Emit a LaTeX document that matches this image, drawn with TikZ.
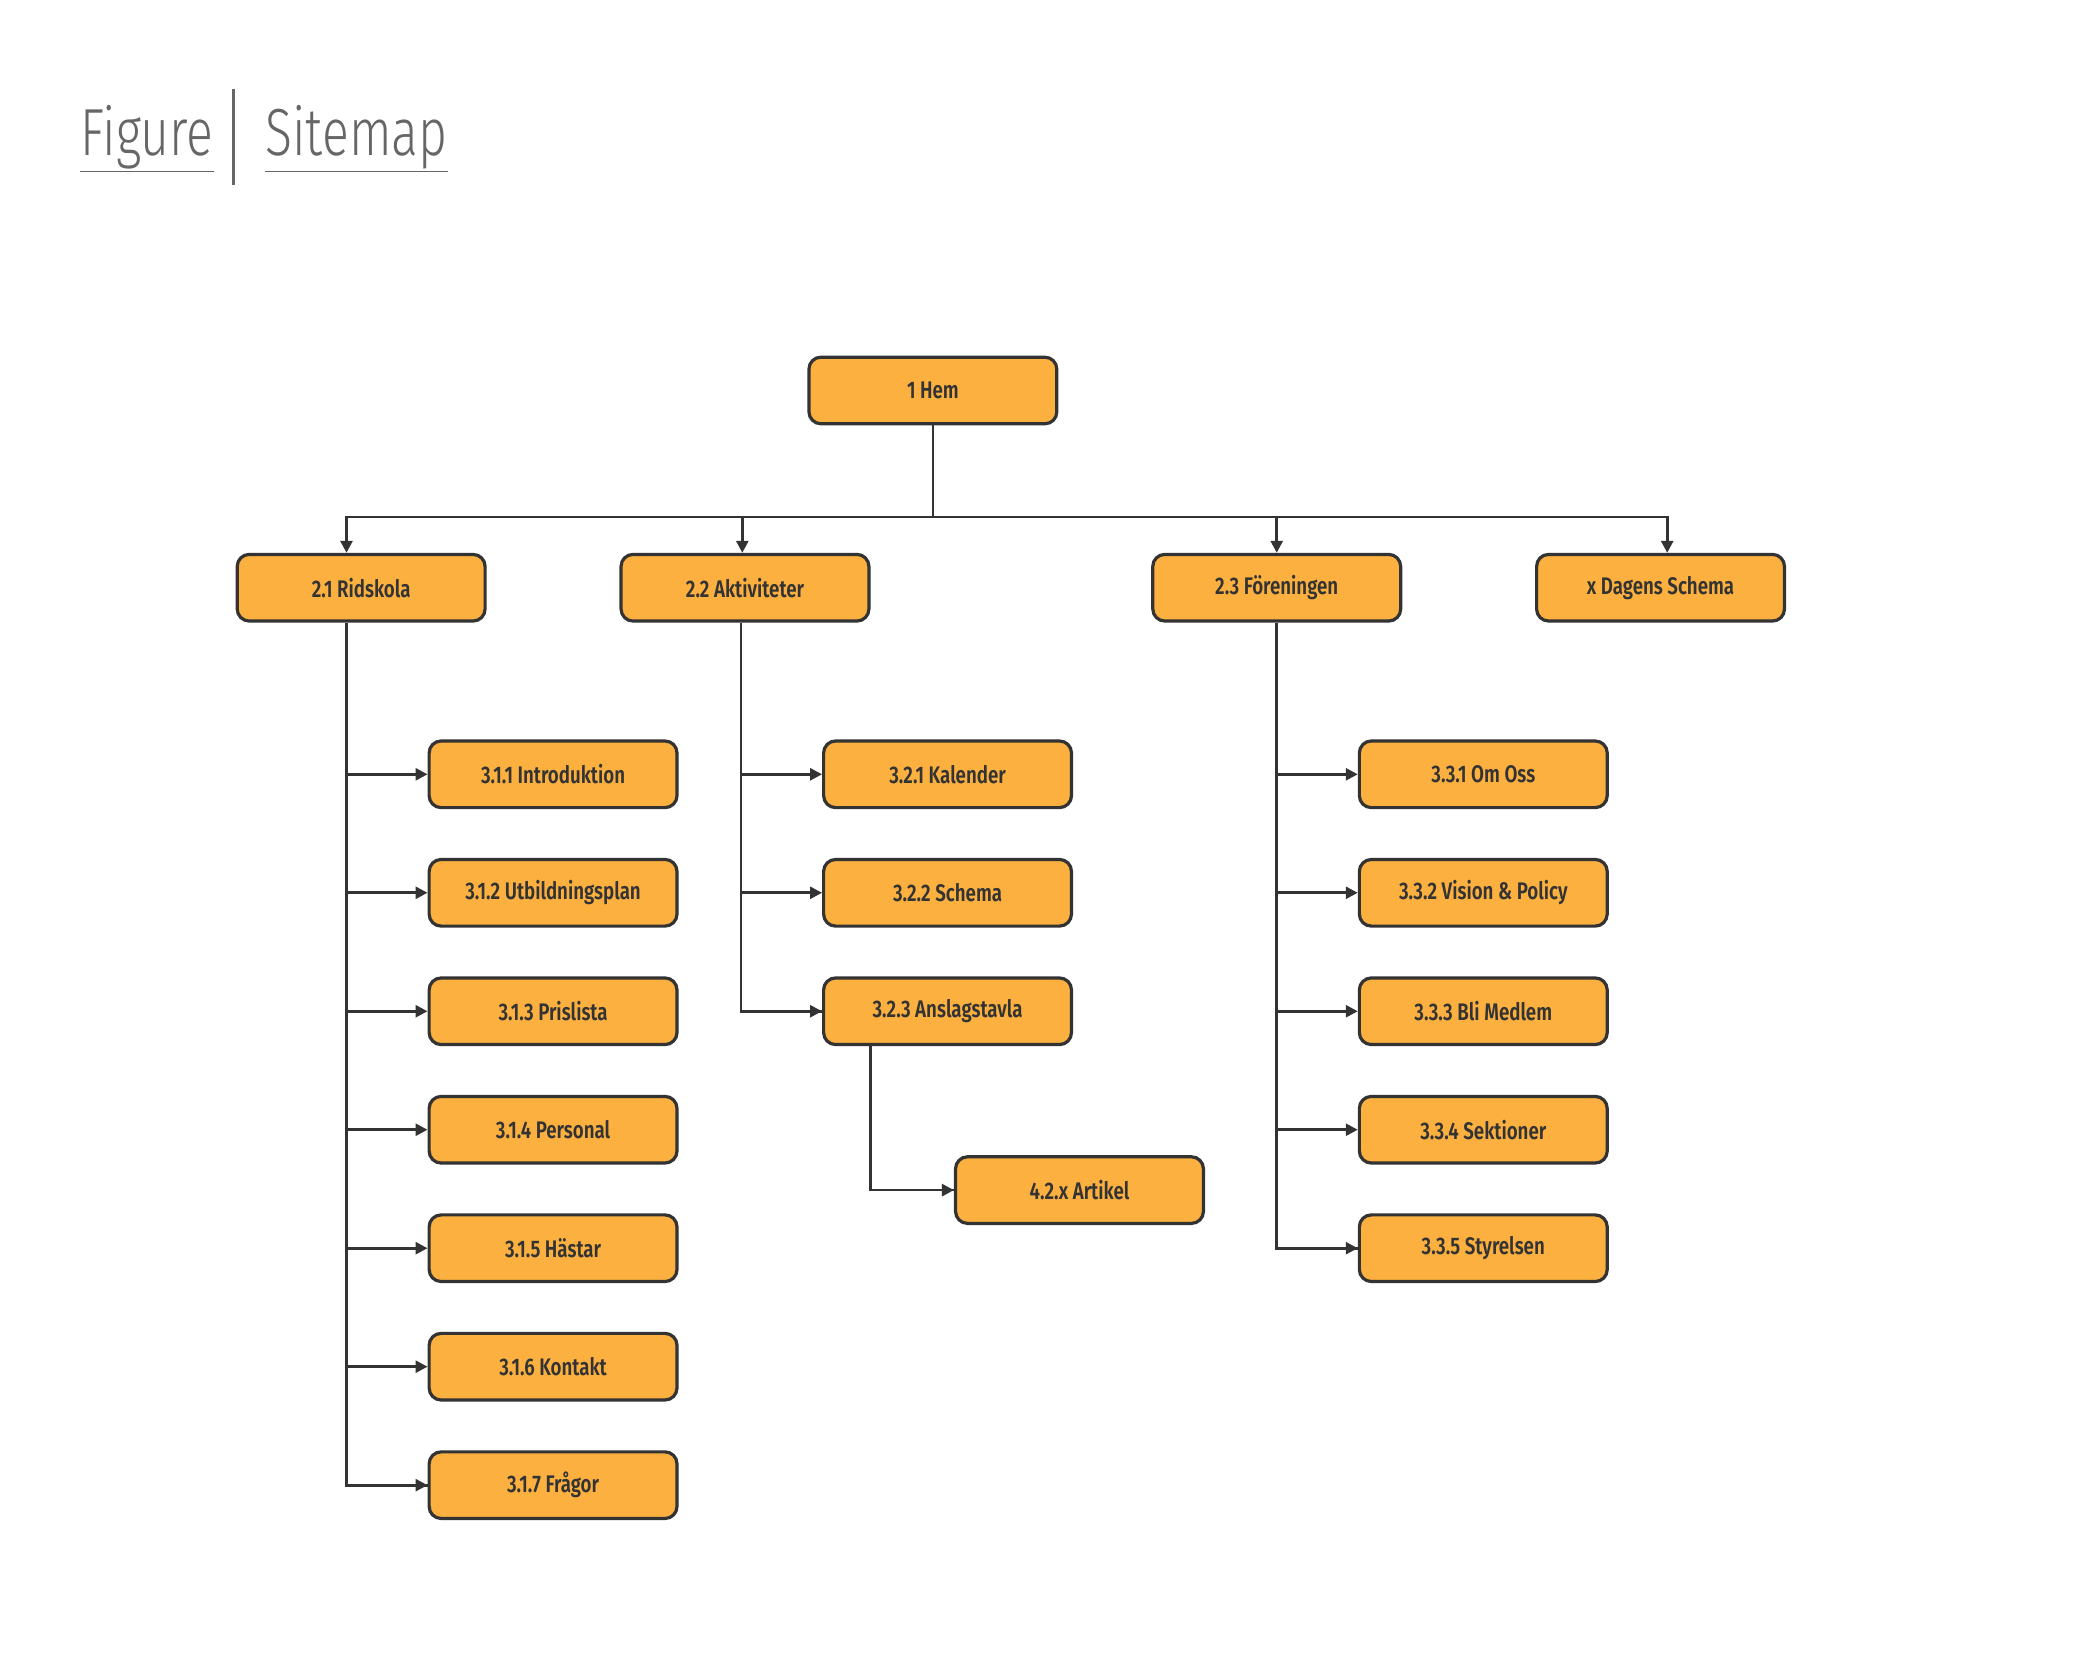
\documentclass[tikz,border=0pt]{standalone}
\usepackage{fontspec}
\setmainfont{Fira Sans}
\newfontfamily\boxfont[FakeStretch=0.78]{Fira Sans SemiBold}
\newfontfamily\titlefont[FakeStretch=0.75]{Fira Sans Light}
\usetikzlibrary{arrows.meta}
\definecolor{boxfill}{HTML}{FBB040}
\definecolor{edge}{HTML}{333333}
\definecolor{titlegray}{HTML}{666666}
\begin{document}
\begin{tikzpicture}[x=1pt,y=-1pt,
  pg/.style={draw=edge,fill=boxfill,line width=2.4pt,rounded corners=9pt,minimum width=186pt,minimum height=50pt,inner sep=0pt,font=\boxfont\fontsize{18}{20}\selectfont,text=edge},
  conn/.style={draw=edge,line width=2pt},
  arr/.style={conn,-{Triangle[length=9pt,width=9pt]}},
  ttl/.style={font=\titlefont\fontsize{50}{56}\selectfont,text=titlegray,inner sep=0pt,anchor=base west}]
\useasboundingbox (0,0) rectangle (1563,1258);
% title
\node[ttl] (fig) at (60,117) {\underline{Figure}};
\node[ttl] (site) at (199,117) {\underline{Sitemap}};
\draw[titlegray,line width=2pt] (175,67) -- (175,139);
% nodes
\node[pg] (hem) at (700,293) {1 Hem};
\node[pg] (rid) at (271,441) {2.1 Ridskola};
\node[pg] (akt) at (559,441) {2.2 Aktiviteter};
\node[pg] (for) at (958,441) {2.3 Föreningen};
\node[pg] (dag) at (1246,441) {x Dagens Schema};
\foreach \n/\t [count=\i] in {a/3.1.1 Introduktion,b/3.1.2 Utbildningsplan,c/3.1.3 Prislista,d/3.1.4 Personal,e/3.1.5 Hästar,f/3.1.6 Kontakt,g/3.1.7 Frågor}
  \node[pg] (r\n) at (415,{581+(\i-1)*88.9}) {\t};
\foreach \n/\t [count=\i] in {a/3.2.1 Kalender,b/3.2.2 Schema,c/3.2.3 Anslagstavla}
  \node[pg] (k\n) at (711,{581+(\i-1)*88.9}) {\t};
\node[pg] (art) at (810,893) {4.2.x Artikel};
\foreach \n/\t [count=\i] in {a/3.3.1 Om Oss,b/3.3.2 Vision \& Policy,c/3.3.3 Bli Medlem,d/3.3.4 Sektioner,e/3.3.5 Styrelsen}
  \node[pg] (f\n) at (1113,{581+(\i-1)*88.9}) {\t};
% connectors level 1
\coordinate (bus) at (700,388);
\draw[conn] (hem.south) -- (bus);
\draw[arr] (bus) -| ([xshift=-11pt]rid.north);
\draw[arr] (bus) -| ([xshift=-2pt]akt.north);
\draw[arr] (bus) -| (for.north);
\draw[arr] (bus) -| ([xshift=5pt]dag.north);
% Ridskola
\draw[conn] ([xshift=-11pt]rid.south) |- (rg.west);
\foreach \n in {a,b,c,d,e,f,g}
  \draw[arr] ([xshift=-11pt]rid.south |- r\n.west) -- (r\n.west);
% Aktiviteter
\draw[conn] ([xshift=-3pt]akt.south) |- (kc.west);
\foreach \n in {a,b,c}
  \draw[arr] ([xshift=-3pt]akt.south |- k\n.west) -- (k\n.west);
\draw[conn] ([xshift=-58pt]kc.south) |- (art.west);
\draw[arr] ([xshift=-58pt]kc.south |- art.west) -- (art.west);
% Foreningen
\draw[conn] (for.south) |- (fe.west);
\foreach \n in {a,b,c,d,e}
  \draw[arr] (for.south |- f\n.west) -- (f\n.west);
\end{tikzpicture}
\end{document}
